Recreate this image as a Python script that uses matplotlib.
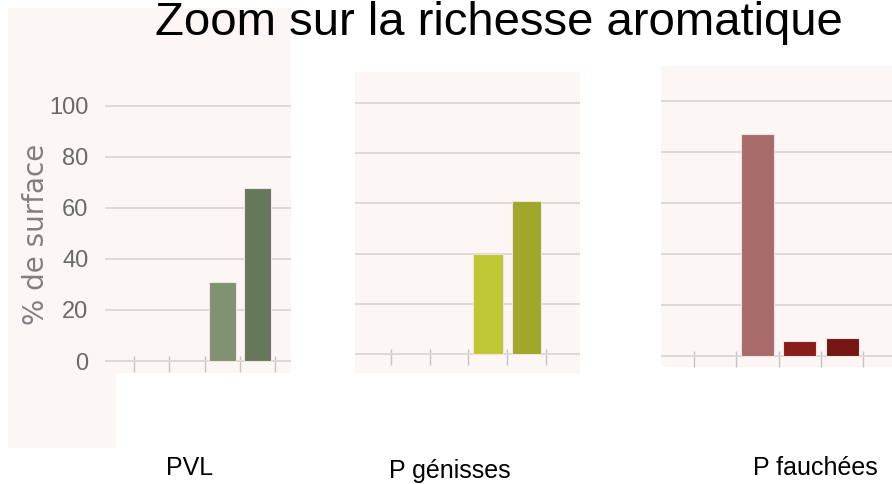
import matplotlib.pyplot as plt
from matplotlib.patches import Rectangle

W, H = 892, 484

# values read per panel (% of surface), one slot per category
slots = [0, 1, 2, 3]
pvl = [0, 0, 31, 68]
genisses = [0, 0, 40, 61]
fauchees = [0, 87, 6, 7]

pvl_colors = ['#7f9272', '#7f9272', '#7f9272', '#66775b']
genisses_colors = ['#bfc732', '#bfc732', '#bfc732', '#a0a72a']
fauchees_colors = ['#a86b6a', '#a86b6a', '#8b1c1a', '#741614']

yticks = [0, 20, 40, 60, 80, 100]
panel_names = ['PVL', 'P génisses', 'P fauchées']

bg = '#fcf6f4'
grid_c = '#dcd9d7'
tick_c = '#c4c4c4'


def frac(x0, y0, x1, y1):
    return [x0 / W, 1 - y1 / H, (x1 - x0) / W, (y1 - y0) / H]


fig = plt.figure(figsize=(W / 100, H / 100), dpi=100)
fig.patch.set_facecolor('white')

# pale panel backgrounds
for x0, y0, x1, y1 in [(8, 8, 291, 373), (8, 373, 116, 448),
                       (355, 72, 580, 373), (661, 66, 892, 367)]:
    b = frac(x0, y0, x1, y1)
    fig.patches.append(Rectangle((b[0], b[1]), b[2], b[3], transform=fig.transFigure,
                                 facecolor=bg, edgecolor='none', zorder=-1))


def panel(box, xlim, ylim, values, colors, width):
    ax = fig.add_axes(frac(*box))
    ax.set_facecolor('none')
    for s in ax.spines.values():
        s.set_visible(False)
    # ticks hang just under the zero line
    ax.spines['bottom'].set_position(('data', -1.2))
    xs = [s for s, v in zip(slots, values) if v > 0]
    hs = [v for v in values if v > 0]
    cs = [c for c, v in zip(colors, values) if v > 0]
    ax.bar(xs, hs, width=width, color=cs, edgecolor='#efe4e1', linewidth=0.8, zorder=3)
    ax.set_xlim(*xlim)
    ax.set_ylim(*ylim)
    ax.set_yticks(yticks)
    ax.yaxis.grid(True, color=grid_c, linewidth=1.4, zorder=0)
    ax.set_xticks([s - 0.5 for s in slots] + [slots[-1] + 0.5])
    ax.set_xticklabels([])
    ax.tick_params(axis='x', direction='inout', length=11, width=1, color=tick_c)
    ax.tick_params(axis='y', length=0)
    return ax


ax1 = panel((105, 8, 291, 373), (-1.32, 3.95), (-4.7, 138.4), pvl, pvl_colors, 0.77)
ax1.set_yticklabels([str(t) for t in yticks], family='Liberation Sans',
                    fontsize=17, color='#6a6a6a')
ax1.tick_params(axis='y', pad=12)

ax2 = panel((355, 72, 580, 373), (-1.43, 4.38), (-7.6, 112.4), genisses, genisses_colors, 0.77)
ax2.set_yticklabels([])

ax3 = panel((661, 66, 892, 367), (-1.28, 4.18), (-4.3, 113.7), fauchees, fauchees_colors, 0.78)
ax3.set_yticklabels([])

fig.text(36 / W, 1 - 234 / H, '% de surface', rotation=90, ha='center', va='center',
         fontsize=20, color='#808080', family='DejaVu Sans')

fig.text(499 / W, 1 - 35 / H, 'Zoom sur la richesse aromatique', ha='center', va='baseline',
         fontsize=34, color='black', family='Liberation Sans')

for name, cx, base in zip(panel_names, [190, 450, 815], [475, 478, 475]):
    fig.text(cx / W, 1 - base / H, name, ha='center', va='baseline',
             fontsize=18, color='black', family='Liberation Sans')

fig.savefig('out.png', dpi=100)
